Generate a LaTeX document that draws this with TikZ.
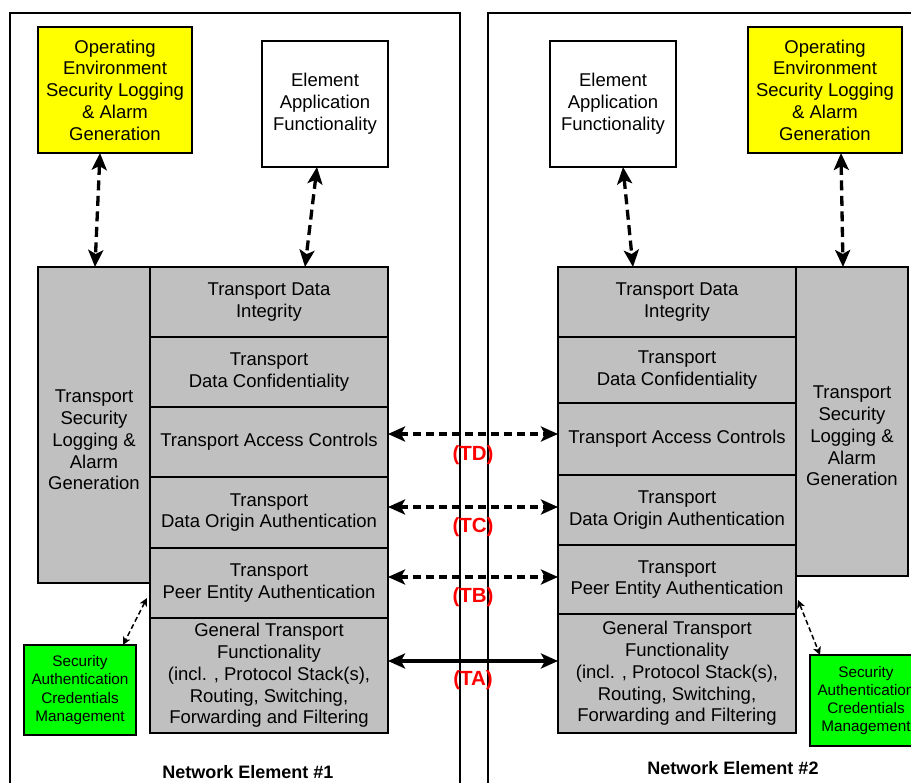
\documentclass[tikz,border=0pt]{standalone}
\usepackage{fontspec}
\setmainfont{Liberation Sans}
\usetikzlibrary{arrows.meta,calc}
\definecolor{layergray}{HTML}{C0C0C0}
\definecolor{opyellow}{HTML}{FFFF00}
\definecolor{credgreen}{HTML}{00FF00}
\definecolor{ifred}{HTML}{FF0000}

\begin{document}
\begin{tikzpicture}[x=1pt,y=-1pt,
  every node/.style={inner sep=0pt, outer sep=0pt},
  box/.style={draw, line width=2pt, align=center,
    font=\fontsize{18.5}{21.8}\selectfont},
  layer/.style={box, fill=layergray, minimum width=238pt},
  sidecol/.style={box, fill=layergray, minimum width=112pt},
  opbox/.style={box, fill=opyellow, minimum width=154pt, minimum height=126pt},
  appbox/.style={box, fill=white, minimum width=126pt, minimum height=126pt},
  credbox/.style={draw, line width=2pt, fill=credgreen, align=center,
    minimum width=112pt, font=\fontsize{15.3}{18.3}\selectfont},
  coltext/.style={align=center, font=\fontsize{18.5}{21.8}\selectfont},
  frame/.style={draw, line width=2pt},
  bigtip/.tip={Stealth[length=17pt,width=15pt,inset=4pt]},
  smalltip/.tip={Stealth[length=8pt,width=8pt,inset=2pt]},
  bigdash/.style={line width=3.5pt, dash pattern=on 8.5pt off 4.5pt, bigtip-bigtip},
  vdash/.style={line width=3.3pt, dash pattern=on 10pt off 5.5pt, bigtip-bigtip},
  bigsolid/.style={line width=3.5pt, bigtip-bigtip},
  smalldash/.style={line width=1.5pt, dash pattern=on 5pt off 3pt, smalltip-smalltip},
  tlabel/.style={text=ifred, font=\fontsize{20.5}{24}\selectfont\bfseries},
  nelabel/.style={font=\fontsize{18}{21}\selectfont\bfseries}]

\useasboundingbox (0,0) rectangle (911,783);
\clip (0,0) rectangle (911,783);
\fill[white] (0,0) rectangle (911,783);

% network element frames (open beyond the page edges)
\draw[frame] (10,13) rectangle (460,820);
\draw[frame] (488,13) rectangle (960,820);

% ---------------- Network Element #1 ----------------
\node[opbox] (yel1) at (115,90) {Operating\\Environment\\Security Logging\\\& Alarm\\Generation};
\node[appbox] (app1) at (325,104) {Element\\Application\\Functionality};

\node[sidecol, minimum height=316pt] (log1) at (94,425) {};
\node[coltext] (log1t) at (94,440) {Transport\\Security\\Logging \&\\Alarm\\Generation};

\node[layer, minimum height=70pt]  (L1) at (269,302)   {Transport Data\\Integrity};
\node[layer, minimum height=70pt]  (L2) at (269,372)   {Transport\\Data Confidentiality};
\node[layer, minimum height=70pt]  (L3) at (269,442)   {Transport Access Controls};
\node[layer, minimum height=71pt]  (L4) at (269,512.5) {Transport\\Data Origin Authentication};
\node[layer, minimum height=70pt]  (L5) at (269,583)   {Transport\\Peer Entity Authentication};
\node[layer, minimum height=115pt] (L6) at (269,675.5) {General Transport\\Functionality\\(incl. , Protocol Stack(s),\\Routing, Switching,\\Forwarding and Filtering};

\node[credbox, minimum height=90pt] (cred1) at (80,690) {Security\\Authentication\\Credentials\\Management};

\node[nelabel] (ne1) at (248,772.5) {Network Element \#1};

% ---------------- Network Element #2 ----------------
\node[appbox] (app2) at (613,104) {Element\\Application\\Functionality};
\node[opbox] (yel2) at (825,90) {Operating\\Environment\\Security Logging\\\& Alarm\\Generation};

\node[layer, minimum height=70pt]  (R1) at (677,302)   {Transport Data\\Integrity};
\node[layer, minimum height=66pt]  (R2) at (677,370)   {Transport\\Data Confidentiality};
\node[layer, minimum height=72pt]  (R3) at (677,439)   {Transport Access Controls};
\node[layer, minimum height=70pt]  (R4) at (677,510)   {Transport\\Data Origin Authentication};
\node[layer, minimum height=69pt]  (R5) at (677,579.5) {Transport\\Peer Entity Authentication};
\node[layer, minimum height=119pt] (R6) at (677,673.5) {General Transport\\Functionality\\(incl. , Protocol Stack(s),\\Routing, Switching,\\Forwarding and Filtering};

\node[sidecol, minimum height=309pt] (log2) at (852,421.5) {};
\node[coltext] (log2t) at (852,436) {Transport\\Security\\Logging \&\\Alarm\\Generation};

\node[credbox, minimum height=91pt] (cred2) at (866,700.5) {Security\\Authentication\\Credentials\\Management};

\node[nelabel] (ne2) at (733,768) {Network Element \#2};

% ---------------- vertical links ----------------
\draw[vdash] (100,0 |- yel1.south) -- (95,0 |- log1.north);
\draw[vdash] (317,0 |- app1.south) -- (305,0 |- L1.north);
\draw[vdash] (623,0 |- app2.south) -- (633,0 |- R1.north);
\draw[vdash] (841,0 |- yel2.south) -- (843,0 |- log2.north);

% ---------------- peer-to-peer interfaces ----------------
\draw[bigdash] (L3.east |- 0,434) -- (R3.west |- 0,434)
  node[tlabel, midway, yshift=-21pt] {(TD)};
\draw[bigdash] (L4.east |- 0,507) -- (R4.west |- 0,507)
  node[tlabel, midway, yshift=-20pt] {(TC)};
\draw[bigdash] (L5.east |- 0,577) -- (R5.west |- 0,577)
  node[tlabel, midway, yshift=-20pt] {(TB)};
\draw[bigsolid] (L6.east |- 0,661) -- (R6.west |- 0,661)
  node[tlabel, midway, yshift=-19pt] {(TA)};

% ---------------- credential links ----------------
\draw[smalldash] ($(L5.west |- 0,598)+(-3,0)$) -- (123,0 |- cred1.north);
\draw[smalldash] ($(R5.east |- 0,600)+(2,0)$) -- (820,0 |- cred2.north);
\end{tikzpicture}
\end{document}
